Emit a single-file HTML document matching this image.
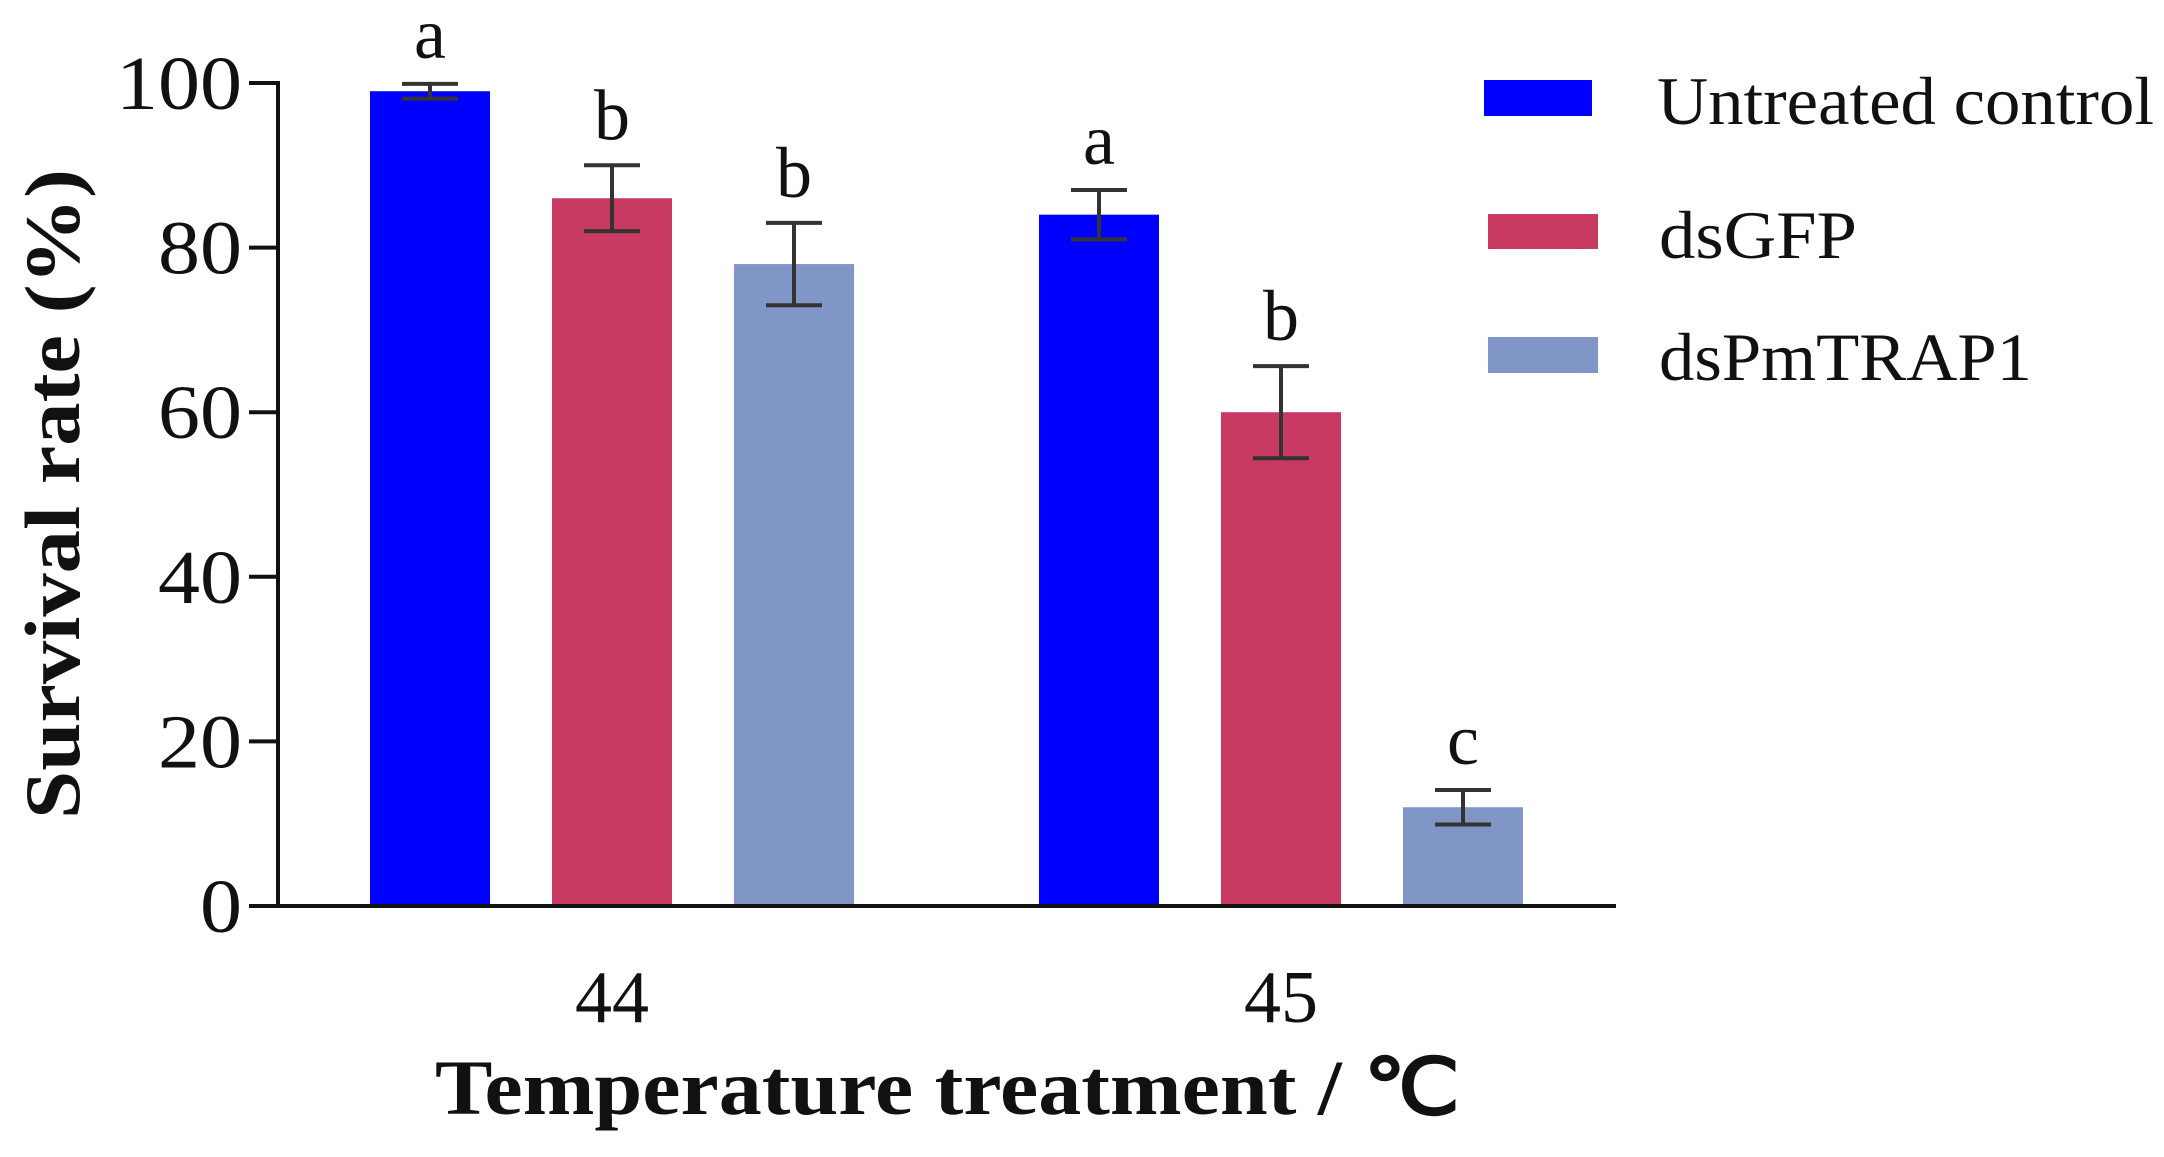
<!DOCTYPE html>
<html><head><meta charset="utf-8"><style>
html,body{margin:0;padding:0;background:#fff;}
svg{display:block;}
text{font-family:"Liberation Serif","Times New Roman",serif;fill:#111;}
</style></head><body>
<svg id="chart" width="2164" height="1157" viewBox="0 0 2164 1157" xmlns="http://www.w3.org/2000/svg">
<g id="bars"></g>
<g id="errs"></g>
<g id="letters"></g>
<line x1="278" y1="81" x2="278" y2="908" stroke="#111" stroke-width="4"/>
<line x1="249" y1="906" x2="1616" y2="906" stroke="#111" stroke-width="4"/>
<g id="yticks"></g>
<text x="612" y="1022" font-size="74" text-anchor="middle" textLength="74" lengthAdjust="spacingAndGlyphs">44</text>
<text x="1281" y="1022" font-size="74" text-anchor="middle" textLength="74" lengthAdjust="spacingAndGlyphs">45</text>
<text x="435" y="1114" font-size="78" font-weight="bold" textLength="1025" lengthAdjust="spacingAndGlyphs">Temperature treatment / ℃</text>
<text transform="translate(79,819) rotate(-90)" x="0" y="0" font-size="78" font-weight="bold" textLength="650" lengthAdjust="spacingAndGlyphs">Survival rate (%)</text>
<g>
<rect x="1484" y="80" width="108" height="36" fill="#0000ff"/>
<text x="1657" y="124" font-size="68" textLength="497" lengthAdjust="spacingAndGlyphs">Untreated control</text>
<rect x="1488" y="214" width="110" height="35" fill="#c93a63"/>
<text x="1659" y="258" font-size="68" textLength="198" lengthAdjust="spacingAndGlyphs">dsGFP</text>
<rect x="1488" y="337" width="110" height="36" fill="#7f96c6"/>
<text x="1659" y="380" font-size="68" textLength="373" lengthAdjust="spacingAndGlyphs">dsPmTRAP1</text>
</g>
</svg>
<script>
const categories = ["44", "45"];
const seriesNames = ["Untreated control", "dsGFP", "dsPmTRAP1"];
const untreated = [99, 84];
const dsGFP = [86, 60];
const dsPmTRAP1 = [78, 12];
const errUntreated = [0.9, 3];
const errGFP = [4, 5.6];
const errTRAP = [5, 2.1];
const lettersUntreated = ["a", "a"];
const lettersGFP = ["b", "b"];
const lettersTRAP = ["b", "c"];
const yTicks = [0, 20, 40, 60, 80, 100];

const NS = "http://www.w3.org/2000/svg";
const y0 = 906, yTop = 83;
function yScale(v){ return y0 - (y0 - yTop) * v / 100; }
const groupCenters = [612, 1281];
const barW = 120, step = 182;
function xBar(g, s){ return groupCenters[g] + (s - 1) * step - barW / 2; }
const colors = ["#0000ff", "#c93a63", "#7f96c6"];
const series = [untreated, dsGFP, dsPmTRAP1];
const errs = [errUntreated, errGFP, errTRAP];
const lets = [lettersUntreated, lettersGFP, lettersTRAP];

function mk(tag, attrs, parent){
  const el = document.createElementNS(NS, tag);
  for (const k in attrs) el.setAttribute(k, attrs[k]);
  parent.appendChild(el);
  return el;
}
const gB = document.getElementById('bars'), gE = document.getElementById('errs'), gL = document.getElementById('letters'), gT = document.getElementById('yticks');
for (let s = 0; s < 3; s++) {
  for (let g = 0; g < categories.length; g++) {
    const v = series[s][g], e = errs[s][g];
    const x = xBar(g, s), cx = x + barW / 2;
    const r = mk('rect', {x: x, y: yScale(v), width: barW, height: y0 - yScale(v), fill: colors[s]}, gB);
    
    
    const p = mk('path', {d: 'M' + (cx - 28) + ' ' + yScale(v + e) + 'H' + (cx + 28) + 'M' + cx + ' ' + yScale(v + e) + 'V' + yScale(v - e) + 'M' + (cx - 28) + ' ' + yScale(v - e) + 'H' + (cx + 28), stroke: '#333', 'stroke-width': 4, fill: 'none'}, gE);
    
    
    const t = mk('text', {x: cx, y: yScale(v + e) - 26, 'font-size': 72, 'text-anchor': 'middle'}, gL);
    t.textContent = lets[s][g];
    
    
  }
}
yTicks.forEach(v => {
  const l = mk('line', {x1: 249, x2: 278, y1: yScale(v), y2: yScale(v), stroke: '#111', 'stroke-width': 4}, gT);
  
  
  const t = mk('text', {x: 242, y: yScale(v) + 26, 'font-size': 76, 'text-anchor': 'end', textLength: 42 * String(v).length, lengthAdjust: 'spacingAndGlyphs'}, gT);
  t.textContent = String(v);
  
  
});
</script>
</body></html>
